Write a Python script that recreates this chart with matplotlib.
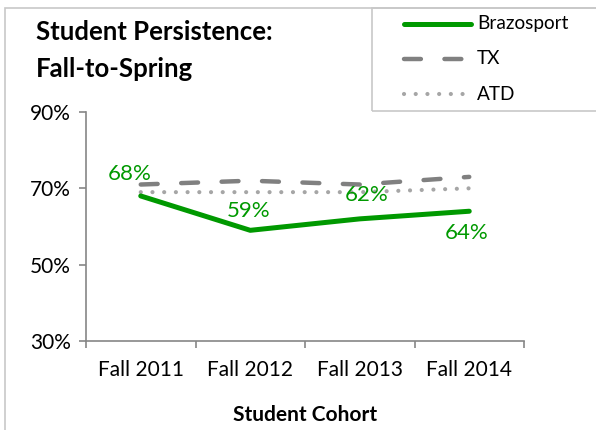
import matplotlib
matplotlib.use('Agg')
import matplotlib.pyplot as plt
from matplotlib.patches import Rectangle
from matplotlib.lines import Line2D

plt.rcParams['font.family'] = ['Lato', 'DejaVu Sans']

cohorts = ['Fall 2011', 'Fall 2012', 'Fall 2013', 'Fall 2014']
brazosport = [68, 59, 62, 64]
tx = [71, 72, 71, 73]
atd = [69, 69, 69, 70]
labels = ['68%', '59%', '62%', '64%']
yticks = [30, 50, 70, 90]

W, H = 596, 430
fig = plt.figure(figsize=(W / 100, H / 100), dpi=100)
fig.patch.set_facecolor('white')

# outer chart border
fig.patches.append(Rectangle((5 / W, -0.1), 1.2, (H - 8) / H + 0.1, transform=fig.transFigure,
                             fill=False, edgecolor='#c8c8c8', linewidth=1.2))

ax = fig.add_axes([86 / W, (H - 341) / H, (524 - 86) / W, (341 - 112) / H])
x = list(range(len(cohorts)))

green = '#009900'
tx_dash = (3.8, 5.3)
atd_dash = (0.01, 2.8)
ax.plot(x, tx, color='#808080', linewidth=3.2, dashes=tx_dash, dash_capstyle='round')
ax.plot(x, atd, color='#a6a6a6', linewidth=3.0, dashes=atd_dash, dash_capstyle='round')
ax.plot(x, brazosport, color=green, linewidth=3.6, solid_capstyle='round', solid_joinstyle='round')

offsets = [(-8, 16), (-1, 14), (5, 17), (-2, -16)]
for xi, yi, lab, off in zip(x, brazosport, labels, offsets):
    ax.annotate(lab, (xi, yi), xytext=off, textcoords='offset points', ha='center', va='center',
                color=green, fontsize=16)

ax.set_xlim(-0.5, len(cohorts) - 0.5)
ax.set_ylim(30, 90)
ax.set_yticks(yticks)
ax.set_yticklabels([f'{v}%' for v in yticks], fontsize=15)
ax.set_xticks(x)
ax.set_xticklabels(cohorts, fontsize=15)
ax.set_xticks([i - 0.5 for i in range(len(cohorts) + 1)], minor=True)
ax.tick_params(axis='x', which='major', length=0, pad=14)
ax.tick_params(axis='x', which='minor', length=5, color='#868686', width=1.2)
ax.tick_params(axis='y', length=5, color='#868686', width=1.2, pad=6)
for s in ['top', 'right']:
    ax.spines[s].set_visible(False)
for s in ['left', 'bottom']:
    ax.spines[s].set_color('#868686')
    ax.spines[s].set_linewidth(1.2)

ax.set_xlabel('Student Cohort', fontsize=15, fontweight='bold', labelpad=18)

fig.text(36 / W, 1 - 32 / H, 'Student Persistence:', fontsize=18.5, fontweight='bold', va='center')
fig.text(36 / W, 1 - 69 / H, 'Fall-to-Spring', fontsize=18.5, fontweight='bold', va='center')

# legend box
fig.patches.append(Rectangle((372 / W, 1 - 111 / H), 1.0, (111 - 8) / H, transform=fig.transFigure,
                             fill=False, edgecolor='#c8c8c8', linewidth=1.2))
leg_items = [('Brazosport', dict(color=green, linewidth=3.6, solid_capstyle='round')),
             ('TX', dict(color='#808080', linewidth=3.2, dashes=tx_dash, dash_capstyle='round')),
             ('ATD', dict(color='#a6a6a6', linewidth=3.0, dashes=atd_dash, dash_capstyle='round'))]
for i, (name, kw) in enumerate(leg_items):
    yy = 1 - (24 + i * 35) / H
    fig.add_artist(Line2D([404 / W, 471 / W], [yy, yy], transform=fig.transFigure, **kw))
    fig.text(477 / W, yy, name, fontsize=13.7, va='center')

fig.savefig('out.png', dpi=100)
